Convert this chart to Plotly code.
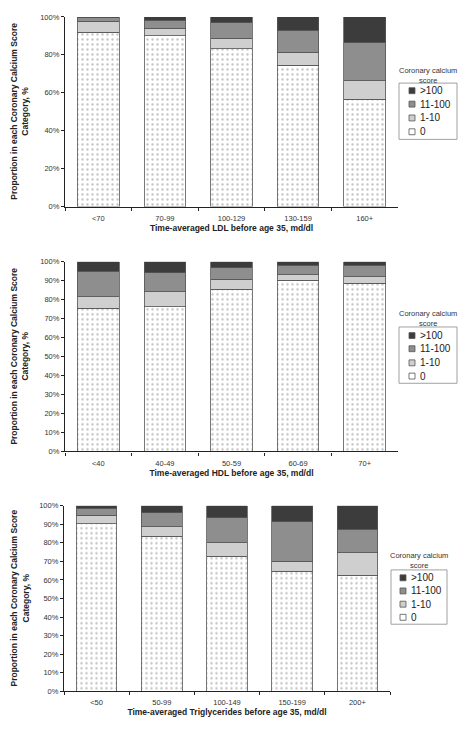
import plotly.graph_objects as go

score_labels = ["0", "1-10", "11-100", ">100"]

ldl_cats = ["<70", "70-99", "100-129", "130-159", "160+"]
ldl_0 = [91.9, 90.0, 83.2, 74.4, 56.5]
ldl_1_10 = [5.7, 4.1, 5.5, 7.1, 9.9]
ldl_11_100 = [1.9, 4.2, 8.2, 11.4, 20.1]
ldl_gt100 = [0.5, 1.7, 3.1, 7.1, 13.5]

hdl_cats = ["<40", "40-49", "50-59", "60-69", "70+"]
hdl_0 = [75.4, 76.3, 85.6, 90.3, 88.6]
hdl_1_10 = [6.1, 7.8, 5.2, 2.9, 3.6]
hdl_11_100 = [13.5, 10.2, 6.1, 4.9, 5.9]
hdl_gt100 = [5.0, 5.7, 3.1, 1.9, 1.9]

tg_cats = ["<50", "50-99", "100-149", "150-199", "200+"]
tg_0 = [90.2, 83.5, 72.7, 64.7, 62.6]
tg_1_10 = [4.8, 5.3, 7.4, 5.3, 12.2]
tg_11_100 = [3.6, 7.5, 13.3, 21.3, 12.6]
tg_gt100 = [1.4, 3.7, 6.6, 8.7, 12.6]

x_titles = [
    "Time-averaged LDL before age 35, md/dl",
    "Time-averaged HDL before age 35, md/dl",
    "Time-averaged Triglycerides before age 35, md/dl",
]
y_title = "Proportion in each Coronary Calcium Score<br>Category, %"
legend_title = "Coronary calcium<br>score"

# page body has an 8px margin, so the figure is offset by 8px
OFF = 8
W, H = 468 - OFF, 733 - 2 * OFF
FONT = "Liberation Sans, Arial, sans-serif"

panels = [
    (ldl_cats, [ldl_0, ldl_1_10, ldl_11_100, ldl_gt100]),
    (hdl_cats, [hdl_0, hdl_1_10, hdl_11_100, hdl_gt100]),
    (tg_cats, [tg_0, tg_1_10, tg_11_100, tg_gt100]),
]

# pixel geometry in window coordinates (layout only)
geo = [
    dict(x0=65, x1=398, top=13, bot=205, dtick=20,
         box=(399, 80, 457, 137), rows=[129.3, 115.3, 101.3, 87.7], sq=409, ltitle=(428, 72.5)),
    dict(x0=65, x1=398, top=261, bot=453, dtick=10,
         box=(399, 327, 457, 384), rows=[376.7, 363.3, 349.0, 335.7], sq=409, ltitle=(428, 318)),
    dict(x0=64, x1=390, top=508, bot=696, dtick=10,
         box=(391, 573, 447, 628), rows=[621.0, 607.7, 594.3, 581.0], sq=400, ltitle=(419, 563)),
]

def px(x):
    return (x - OFF) / W

def py(y):
    return 1 - (y - OFF) / H

seg_colors = ["white", "#cfcfcf", "#8e8e8e", "#3c3c3c"]
EDGE = "#555555"

fig = go.Figure()
annotations = []
shapes = []
layout = {}
for i, ((cats, series), g) in enumerate(zip(panels, geo)):
    n = "" if i == 0 else str(i + 1)
    for k, (lab, vals, col) in enumerate(zip(score_labels, series, seg_colors)):
        marker = dict(color=col, line=dict(color=EDGE, width=0.8))
        if k == 0:
            marker["pattern"] = dict(shape=".", fgcolor="#8a8a8a", bgcolor="white", size=5, solidity=0.18)
        fig.add_trace(go.Bar(
            x=cats, y=vals, name=lab,
            xaxis=f"x{n}", yaxis=f"y{n}", showlegend=False,
            marker=marker, hoverinfo="skip",
        ))
    layout[f"xaxis{n}"] = dict(
        domain=[px(g["x0"]), px(g["x1"])], anchor=f"y{n}",
        type="category", tickson="boundaries", ticks="outside", ticklen=3,
        tickcolor="#222", showline=True, linecolor="#222", linewidth=1.2,
        ticklabelstandoff=4,
        tickfont=dict(size=7.5, color="#333", family=FONT),
        title=dict(text=f"<b>{x_titles[i]}</b>", font=dict(size=8.5, color="#222", family=FONT), standoff=1),
        showgrid=False, fixedrange=True,
    )
    layout[f"yaxis{n}"] = dict(
        domain=[py(g["bot"]), py(g["top"])], anchor=f"x{n}",
        range=[0, 100], dtick=g["dtick"], ticksuffix="%",
        ticks="outside", ticklen=3, tickcolor="#222",
        showline=True, linecolor="#222", linewidth=1.2,
        tickfont=dict(size=7.5, color="#333", family=FONT),
        showgrid=False, zeroline=False, fixedrange=True,
    )
    # legend (box, swatches, labels)
    bx0, by0, bx1, by1 = g["box"]
    shapes.append(dict(type="rect", xref="paper", yref="paper",
                       x0=px(bx0), x1=px(bx1), y0=py(by1), y1=py(by0),
                       line=dict(color="#a0a0a0", width=1), fillcolor="white"))
    for lab, col, ry in zip(score_labels, seg_colors, g["rows"]):
        sq = g["sq"]
        shapes.append(dict(type="rect", xref="paper", yref="paper",
                           x0=px(sq), x1=px(sq + 6), y0=py(ry + 3), y1=py(ry - 3),
                           line=dict(color=EDGE, width=0.8), fillcolor=col))
        annotations.append(dict(
            text=lab, x=px(sq + 8.5), y=py(ry), xref="paper", yref="paper",
            showarrow=False, xanchor="left", yanchor="middle",
            font=dict(size=10, color="#222", family=FONT),
        ))
    tx, ty = g["ltitle"]
    annotations.append(dict(
        text=legend_title, x=px(tx), y=py(ty), xref="paper", yref="paper",
        showarrow=False, xanchor="center", yanchor="middle",
        font=dict(size=7.5, color="#333", family=FONT),
    ))
    annotations.append(dict(
        text=f"<b>{y_title}</b>", x=px(20), y=py((g["top"] + g["bot"]) / 2),
        xref="paper", yref="paper", showarrow=False, textangle=-90,
        xanchor="center", yanchor="middle",
        font=dict(size=8.5, color="#222", family=FONT),
    ))

fig.update_layout(
    width=W, height=H, margin=dict(l=0, r=0, t=0, b=0),
    paper_bgcolor="white", plot_bgcolor="white",
    barmode="stack", bargap=0.375, showlegend=False,
    font=dict(family=FONT, color="#222"),
    annotations=annotations, shapes=shapes, **layout,
)

fig.write_html("out.html")
